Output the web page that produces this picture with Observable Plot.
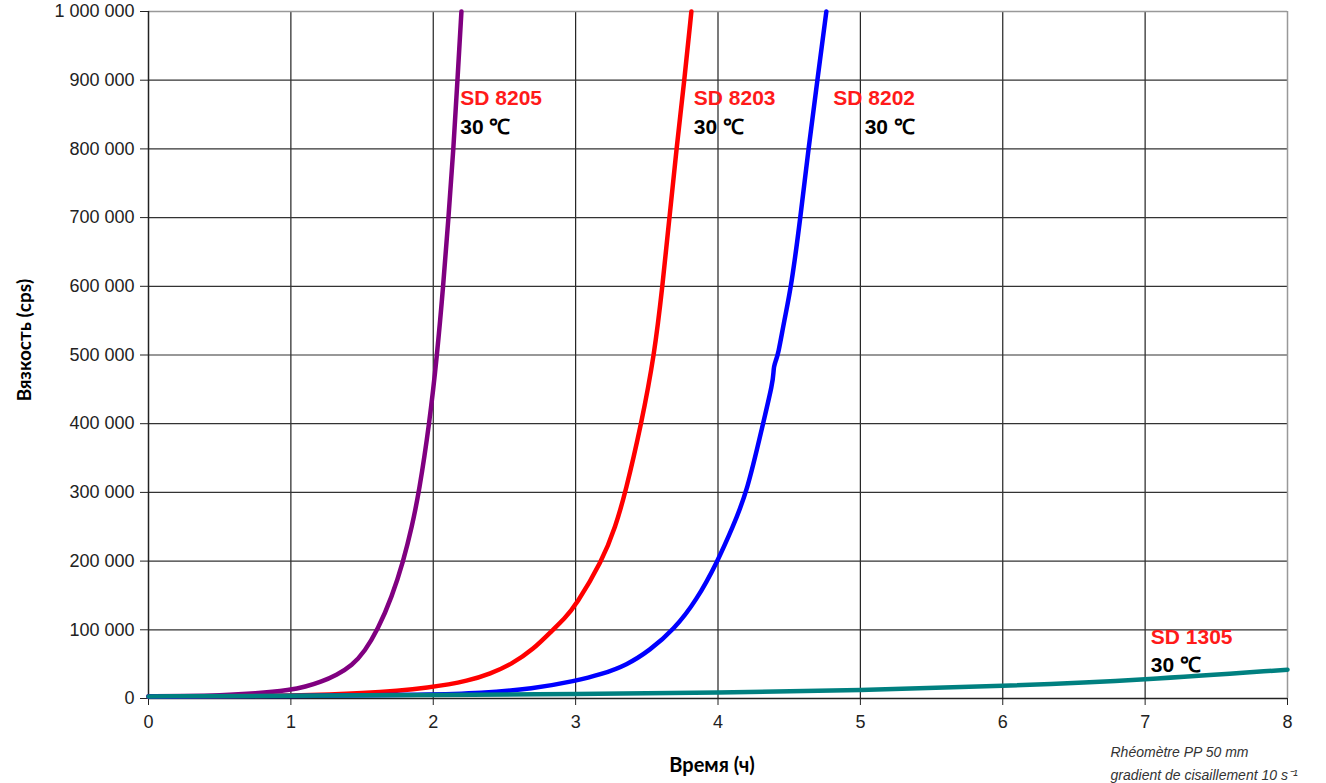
<!DOCTYPE html>
<html>
<head>
<meta charset="utf-8">
<script src="https://cdn.jsdelivr.net/npm/d3@7"></script>
<script src="https://cdn.jsdelivr.net/npm/@observablehq/plot@0.6"></script>
<style>
  html, body { margin: 0; padding: 0; background: #fff; }
</style>
</head>
<body>
<div id="chart"></div>
<script>
// Tick values
const xTicks = [0, 1, 2, 3, 4, 5, 6, 7, 8];
const yTicks = [0, 100000, 200000, 300000, 400000, 500000, 600000, 700000, 800000, 900000, 1000000];

// Series: SD 8205 (purple)
const sd8205X = [0, 0.25, 0.5, 0.75, 1.0, 1.1, 1.21, 1.32, 1.43, 1.52, 1.61, 1.71, 1.79, 1.85, 1.90, 1.973, 2.027, 2.07, 2.107, 2.142, 2.17, 2.198];
const sd8205Y = [3000, 3600, 4500, 7000, 12500, 17000, 24000, 34000, 48000, 69000, 100000, 148000, 200000, 250000, 300000, 400000, 500000, 600000, 700000, 800000, 900000, 1000000];

// Series: SD 8203 (red)
const sd8203X = [0, 0.5, 1.0, 1.5, 2.0, 2.25, 2.4, 2.55, 2.7, 2.84, 2.92, 3.0, 3.186, 3.28, 3.35, 3.462, 3.553, 3.61, 3.659, 3.708, 3.764, 3.813];
const sd8203Y = [3000, 3200, 4000, 7000, 16000, 26000, 36000, 50000, 71000, 100000, 116000, 135000, 200000, 250000, 300000, 400000, 500000, 600000, 700000, 800000, 900000, 1000000];

// Series: SD 8202 (blue)
const sd8202X = [0, 1, 2, 2.33, 2.7, 3.0, 3.18, 3.36, 3.52, 3.689, 3.85, 3.998, 4.1, 4.204, 4.316, 4.385, 4.39, 4.392, 4.405, 4.422, 4.465, 4.515, 4.579, 4.635, 4.698, 4.761];
const sd8202Y = [3000, 3500, 5500, 7700, 14000, 25600, 35000, 48700, 70000, 100000, 143000, 200000, 248000, 300000, 400000, 460000, 476000, 482000, 492000, 500000, 550000, 600000, 700000, 800000, 900000, 1000000];

// Series: SD 1305 (teal)
const sd1305X = [0, 1, 2, 3, 4, 5, 6, 7, 8];
const sd1305Y = [3000, 4000, 5000, 6500, 8500, 12000, 18000, 27000, 42000];

// Series labels
const labelNames = ["SD 8205", "SD 8203", "SD 8202", "SD 1305"];
const labelX = [2.19, 3.83, 4.81, 7.04];
const labelY = [873000, 873000, 873000, 89000];
const tempText = ["30 ℃", "30 ℃", "30 ℃", "30 ℃"];
const tempX = [2.19, 3.83, 5.03, 7.04];
const tempY = [831000, 831000, 831000, 48000];

const seriesColors = ["#800080", "#ff0000", "#0000ff", "#008080"];

const toRows = (xs, ys, name) => xs.map((x, i) => ({x, y: ys[i], name}));
const seriesData = [
  toRows(sd8205X, sd8205Y, "SD 8205"),
  toRows(sd8203X, sd8203Y, "SD 8203"),
  toRows(sd8202X, sd8202Y, "SD 8202"),
  toRows(sd1305X, sd1305Y, "SD 1305")
];
const labels = labelNames.map((n, i) => ({n, x: labelX[i], y: labelY[i]}));
const temps = tempText.map((t, i) => ({t, x: tempX[i], y: tempY[i]}));

const fmt = d => d3.format(",")(d).replace(/,/g, " ");

const chart = Plot.plot({
  width: 1326,
  height: 783,
  marginLeft: 148,
  marginRight: 39,
  marginTop: 11,
  marginBottom: 85,
  style: {fontFamily: "'Liberation Sans', Arial, sans-serif", fontSize: "18px", color: "#222", background: "#fff"},
  x: {domain: [0, 8]},
  y: {domain: [0, 1000000]},
  marks: [
    Plot.ruleX(xTicks.slice(1, -1), {stroke: "#222", strokeWidth: 1.2}),
    Plot.ruleY(yTicks.slice(1, -1), {stroke: "#333", strokeWidth: 1.2}),
    Plot.ruleY([1000000], {stroke: "#999", strokeWidth: 1.5}),
    Plot.ruleX([8], {stroke: "#999", strokeWidth: 1.5}),
    Plot.ruleX([0], {stroke: "#222", strokeWidth: 1.5}),
    Plot.ruleY([0], {stroke: "#222", strokeWidth: 1.5}),
    Plot.axisX({ticks: xTicks, tickSize: 7, tickPadding: 10, label: null, fontSize: 18, stroke: "#222"}),
    Plot.axisY({ticks: yTicks, tickSize: 8, tickPadding: 6, tickFormat: fmt, label: null, fontSize: 18, stroke: "#222"}),
    ...seriesData.map((rows, i) => Plot.line(rows, {x: "x", y: "y", stroke: seriesColors[i], strokeWidth: 4.5, curve: "basis"})),
    Plot.text(labels, {x: "x", y: "y", text: "n", fill: "#ff1a1a", fontWeight: "bold", fontSize: 21, textAnchor: "start"}),
    Plot.text(temps, {x: "x", y: "y", text: "t", fill: "#000", fontWeight: "bold", fontSize: 21, textAnchor: "start"}),
    Plot.text(["Вязкость (cps)"], {frameAnchor: "left", textAnchor: "middle", lineAnchor: "middle", rotate: -90, dx: -124, dy: -15, fontWeight: "bold", fontSize: 19, fontFamily: "Lato, 'Open Sans', sans-serif", fill: "#000"}),
    Plot.text(["Время (ч)"], {frameAnchor: "bottom", textAnchor: "middle", lineAnchor: "middle", dx: -6, dy: 67, fontWeight: "bold", fontSize: 20, fontFamily: "Lato, 'Open Sans', sans-serif", fill: "#000"}),
    Plot.text(["Rhéomètre PP 50 mm"], {frameAnchor: "bottom-right", dx: -177, dy: 54, textAnchor: "start", lineAnchor: "middle", fontStyle: "italic", fontSize: 14, fill: "#333"}),
    Plot.text(["gradient de cisaillement 10 s⁻¹"], {frameAnchor: "bottom-right", dx: -177, dy: 77, textAnchor: "start", lineAnchor: "middle", fontStyle: "italic", fontSize: 14, fill: "#333"})
  ]
});
document.getElementById("chart").appendChild(chart);
</script>
</body>
</html>
